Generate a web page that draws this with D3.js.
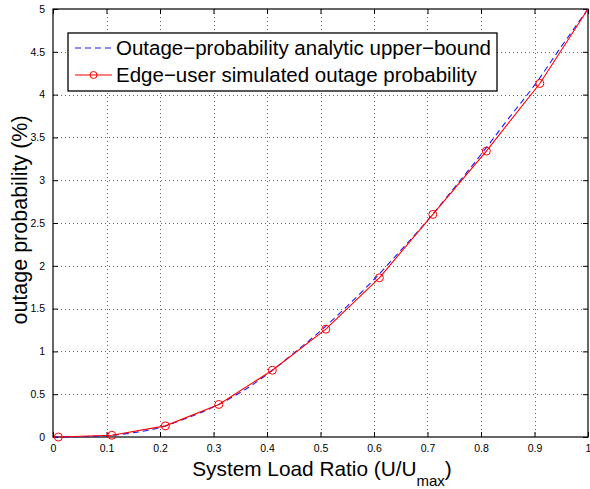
<!DOCTYPE html>
<html>
<head>
<meta charset="utf-8">
<script src="https://cdn.jsdelivr.net/npm/d3@7"></script>
<style>
    body { margin: 0; background: white; }
    text { font-family: "Liberation Sans", Arial, sans-serif; fill: #000; }
</style>
</head>
<body>
<script>
// simulated points (red circles)
var simLoad = [0.01, 0.11, 0.21, 0.31, 0.41, 0.51, 0.61, 0.71, 0.81, 0.91, 1.0]
var simOutage = [0, 0.02, 0.13, 0.38, 0.78, 1.26, 1.86, 2.60, 3.34, 4.13, 5.0]
// analytic upper bound (blue dashed)
var boundLoad = [0, 0.05, 0.1, 0.15, 0.2, 0.25, 0.3, 0.35, 0.4, 0.45, 0.5,
    0.55, 0.6, 0.65, 0.7, 0.75, 0.8, 0.85, 0.9, 0.95, 1.0]
var boundOutage = [0, 0.003, 0.015, 0.05, 0.11, 0.22, 0.35, 0.52, 0.73, 0.98, 1.24,
    1.53, 1.84, 2.18, 2.53, 2.91, 3.30, 3.71, 4.11, 4.56, 5.0]
var xTicks = [0, 0.1, 0.2, 0.3, 0.4, 0.5, 0.6, 0.7, 0.8, 0.9, 1]
var yTicks = [0, 0.5, 1, 1.5, 2, 2.5, 3, 3.5, 4, 4.5, 5]
var legendNames = ["Outage\u2212probability analytic upper\u2212bound",
    "Edge\u2212user simulated outage probability"]

var width = 590, height = 489
var plot = {left: 53, right: 588, top: 9, bottom: 437}

var svg = d3.select("body").append("svg")
    .attr("width", width)
    .attr("height", height)

var xScale = d3.scaleLinear().domain([0, 1]).range([plot.left, plot.right])
var yScale = d3.scaleLinear().domain([0, 5]).range([plot.bottom, plot.top])

// dotted grid
svg.append("g").selectAll("line")
    .data(xTicks.slice(1, -1))
    .enter().append("line")
    .attr("x1", function(d) { return Math.round(xScale(d)) + 0.5 })
    .attr("x2", function(d) { return Math.round(xScale(d)) + 0.5 })
    .attr("y1", plot.top).attr("y2", plot.bottom)
    .attr("stroke", "#666").attr("stroke-dasharray", "1,3")
svg.append("g").selectAll("line")
    .data(yTicks.slice(1, -1))
    .enter().append("line")
    .attr("y1", function(d) { return Math.round(yScale(d)) + 0.5 })
    .attr("y2", function(d) { return Math.round(yScale(d)) + 0.5 })
    .attr("x1", plot.left).attr("x2", plot.right)
    .attr("stroke", "#666").attr("stroke-dasharray", "1,3")

// axes, ticks pointing inward like matlab
var xAxis = d3.axisBottom(xScale).tickValues(xTicks).tickSize(-5).tickPadding(8)
    .tickFormat(function(d) { return d3.format("")(d) })
var yAxis = d3.axisLeft(yScale).tickValues(yTicks).tickSize(-5).tickPadding(8)
    .tickFormat(function(d) { return d3.format("")(d) })

svg.append("g")
    .attr("transform", "translate(0," + plot.bottom + ")")
    .call(xAxis)
svg.append("g")
    .attr("transform", "translate(" + plot.left + ",0)")
    .call(yAxis)
svg.append("g")
    .attr("transform", "translate(0," + plot.top + ")")
    .call(d3.axisTop(xScale).tickValues(xTicks).tickSize(-5).tickFormat(""))
svg.append("g")
    .attr("transform", "translate(" + plot.right + ",0)")
    .call(d3.axisRight(yScale).tickValues(yTicks).tickSize(-5).tickFormat(""))
svg.selectAll(".domain").remove()
svg.selectAll(".tick text").style("font-size", "10.5px")
    .style("font-family", "Liberation Sans, Arial, sans-serif")

// box
svg.append("rect")
    .attr("x", plot.left).attr("y", plot.top)
    .attr("width", plot.right - plot.left)
    .attr("height", plot.bottom - plot.top)
    .attr("fill", "none").attr("stroke", "black").attr("stroke-width", 1.2)

// curves
var line = d3.line()
    .x(function(d) { return xScale(d[0]) })
    .y(function(d) { return yScale(d[1]) })

var bound = boundLoad.map(function(d, i) { return [d, boundOutage[i]] })
var sim = simLoad.map(function(d, i) { return [d, simOutage[i]] })

svg.append("path")
    .datum(bound)
    .attr("d", line.curve(d3.curveMonotoneX))
    .attr("fill", "none").attr("stroke", "#1a1aff")
    .attr("stroke-width", 1.1).attr("stroke-dasharray", "6,4")
svg.append("path")
    .datum(sim)
    .attr("d", line.curve(d3.curveLinear))
    .attr("fill", "none").attr("stroke", "red").attr("stroke-width", 1.1)
svg.selectAll(".marker")
    .data(sim.slice(0, -1))
    .enter().append("circle")
    .attr("class", "marker")
    .attr("cx", function(d) { return xScale(d[0]) })
    .attr("cy", function(d) { return yScale(d[1]) })
    .attr("r", 4)
    .attr("fill", "none").attr("stroke", "red").attr("stroke-width", 1)

// legend
var legend = svg.append("g").attr("transform", "translate(68,33)")
legend.append("rect")
    .attr("width", 429).attr("height", 58)
    .attr("fill", "white").attr("stroke", "black").attr("stroke-width", 1.3)
legend.append("line")
    .attr("x1", 7).attr("x2", 44).attr("y1", 15).attr("y2", 15)
    .attr("stroke", "#1a1aff").attr("stroke-width", 1.2).attr("stroke-dasharray", "6,4")
legend.append("line")
    .attr("x1", 7).attr("x2", 44).attr("y1", 42).attr("y2", 42)
    .attr("stroke", "#f55").attr("stroke-width", 1.3)
legend.append("circle")
    .attr("cx", 25.5).attr("cy", 42).attr("r", 3.5)
    .attr("fill", "none").attr("stroke", "red")
legend.selectAll(".name")
    .data(legendNames)
    .enter().append("text")
    .attr("class", "name")
    .attr("x", 48)
    .attr("y", function(d, i) { return 22 + i * 27 })
    .style("font-size", "20.5px")
    .text(function(d) { return d })

// axis labels
var xlab = svg.append("text")
    .attr("x", 322).attr("y", 476)
    .style("text-anchor", "middle")
    .style("font-size", "20.8px")
xlab.append("tspan").text("System Load Ratio (U/U")
xlab.append("tspan").attr("dy", 10).style("font-size", "15px").text("max")
xlab.append("tspan").attr("dy", -10).text(")")

svg.append("text")
    .attr("transform", "translate(27,220) rotate(-90)")
    .style("text-anchor", "middle")
    .style("font-size", "21.5px")
    .text("outage probability (%)")
</script>
</body>
</html>
